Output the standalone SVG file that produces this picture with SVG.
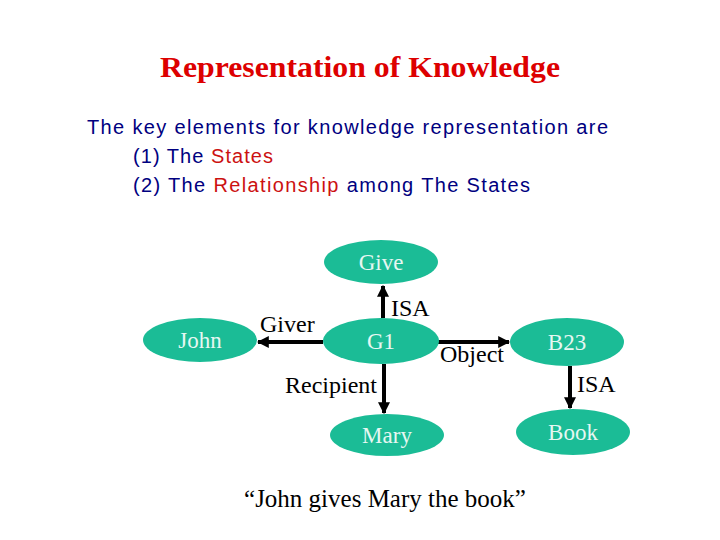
<svg xmlns="http://www.w3.org/2000/svg" width="720" height="540" viewBox="0 0 720 540">
<defs>
<style>
.node{fill:#1BBC96;}
.nt{font-family:"Liberation Serif",serif;font-size:23px;fill:#E6F7F2;text-anchor:middle;}
.lbl{font-family:"Liberation Serif",serif;font-size:24px;fill:#000;}
.body{font-family:"Liberation Sans",Arial,sans-serif;font-size:20px;fill:#000080;}
.red{fill:#CC1111;}
.conn{stroke:#000;stroke-width:4;fill:none;marker-end:url(#ah);}
</style>
<marker id="ah" viewBox="0 0 10 10" refX="9" refY="5" markerWidth="3" markerHeight="3" orient="auto" markerUnits="strokeWidth">
<path d="M0,0 L10,5 L0,10 z" fill="#000"/>
</marker>
</defs>
<rect width="720" height="540" fill="#fff"/>
<text x="360" y="77" text-anchor="middle" font-family="Liberation Serif,serif" font-weight="bold" font-size="30" fill="#DD0000" textLength="400" lengthAdjust="spacingAndGlyphs">Representation of Knowledge</text>
<text class="body" x="87" y="134" textLength="521" lengthAdjust="spacing">The key elements for knowledge representation are</text>
<text class="body" x="133" y="163" textLength="140" lengthAdjust="spacing">(1) The <tspan class="red">States</tspan></text>
<text class="body" x="133" y="192" textLength="397" lengthAdjust="spacing">(2) The <tspan class="red">Relationship</tspan> among The States</text>
<g id="connectors">
<line class="conn" x1="383" y1="318" x2="383" y2="286"/>
<line class="conn" x1="323" y1="342" x2="258" y2="342"/>
<line class="conn" x1="384" y1="364" x2="384" y2="413"/>
<line class="conn" x1="438" y1="342" x2="509" y2="342"/>
<line class="conn" x1="570" y1="366" x2="570" y2="408"/>
</g>
<g id="labels">
<text class="lbl" x="391" y="316">ISA</text>
<text class="lbl" x="260" y="332">Giver</text>
<text class="lbl" x="285" y="393">Recipient</text>
<text class="lbl" x="440" y="362">Object</text>
<text class="lbl" x="577" y="392">ISA</text>
</g>
<g id="give"><ellipse class="node" cx="381" cy="262" rx="57" ry="22"/><text class="nt" x="381" y="270">Give</text></g>
<g id="john"><ellipse class="node" cx="200" cy="340" rx="57" ry="22"/><text class="nt" x="200" y="348">John</text></g>
<g id="g1"><ellipse class="node" cx="381" cy="341" rx="58" ry="23"/><text class="nt" x="381" y="349">G1</text></g>
<g id="b23"><ellipse class="node" cx="567" cy="342" rx="57" ry="24"/><text class="nt" x="567" y="350">B23</text></g>
<g id="mary"><ellipse class="node" cx="387" cy="435" rx="57" ry="21"/><text class="nt" x="387" y="443">Mary</text></g>
<g id="book"><ellipse class="node" cx="573" cy="432" rx="57" ry="23"/><text class="nt" x="573" y="440">Book</text></g>
<text x="385" y="507" text-anchor="middle" font-family="Liberation Serif,serif" font-size="25" fill="#000">“John gives Mary the book”</text>
</svg>
